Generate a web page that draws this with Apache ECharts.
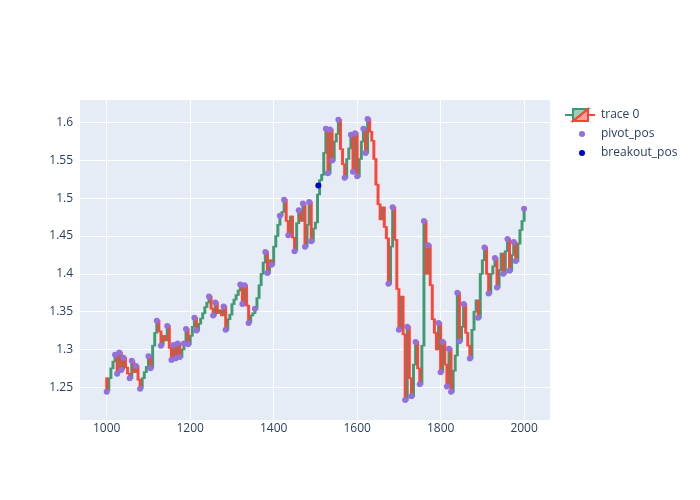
<!DOCTYPE html>
<html>
<head>
<meta charset="utf-8">
<script src="https://cdn.jsdelivr.net/npm/echarts@6/dist/echarts.min.js"></script>
<style>
html, body { margin: 0; padding: 0; background: #fff; }
#chart { width: 700px; height: 500px; }
</style>
</head>
<body>
<div id="chart"></div>
<script>
// candle positions: one candle every stepX units from startX
const startX = 1000
const stepX = 5
const firstOpen = 1.262
// close of each candle
const closes = [
    1.246, 1.262, 1.275, 1.284, 1.293, 1.270, 1.296, 1.274, 1.289, 1.276,
    1.268, 1.262, 1.284, 1.270, 1.278, 1.260, 1.249, 1.262, 1.270, 1.277,
    1.291, 1.276, 1.305, 1.322, 1.338, 1.324, 1.306, 1.318, 1.312, 1.331,
    1.302, 1.287, 1.306, 1.288, 1.308, 1.290, 1.300, 1.309, 1.327, 1.307,
    1.318, 1.330, 1.342, 1.325, 1.334, 1.341, 1.348, 1.356, 1.362, 1.370,
    1.354, 1.345, 1.362, 1.348, 1.352, 1.345, 1.357, 1.326, 1.340, 1.346,
    1.360, 1.366, 1.372, 1.378, 1.386, 1.360, 1.385, 1.358, 1.336, 1.345,
    1.348, 1.354, 1.368, 1.385, 1.400, 1.415, 1.429, 1.401, 1.418, 1.412,
    1.436, 1.450, 1.465, 1.477, 1.482, 1.498, 1.470, 1.451, 1.476, 1.448,
    1.431, 1.467, 1.484, 1.470, 1.493, 1.436, 1.465, 1.495, 1.443, 1.460,
    1.468, 1.505, 1.524, 1.531, 1.560, 1.592, 1.533, 1.591, 1.550, 1.575,
    1.585, 1.604, 1.565, 1.545, 1.527, 1.552, 1.566, 1.584, 1.535, 1.586,
    1.529, 1.552, 1.575, 1.592, 1.560, 1.605, 1.588, 1.576, 1.552, 1.518,
    1.492, 1.472, 1.488, 1.462, 1.447, 1.387, 1.436, 1.488, 1.445, 1.380,
    1.326, 1.370, 1.320, 1.233, 1.330, 1.262, 1.238, 1.280, 1.310, 1.275,
    1.254, 1.305, 1.470, 1.400, 1.438, 1.385, 1.340, 1.322, 1.300, 1.335,
    1.270, 1.310, 1.280, 1.251, 1.301, 1.244, 1.272, 1.292, 1.375, 1.311,
    1.330, 1.360, 1.322, 1.305, 1.288, 1.326, 1.350, 1.365, 1.342, 1.400,
    1.418, 1.435, 1.400, 1.374, 1.400, 1.410, 1.421, 1.382, 1.405, 1.427,
    1.400, 1.430, 1.446, 1.404, 1.425, 1.442, 1.417, 1.440, 1.458, 1.470,
    1.486
]
const pivotX = [
    1000, 1020, 1025, 1030, 1035, 1040, 1055, 1060, 1070, 1080,
    1100, 1105, 1120, 1130, 1145, 1155, 1160, 1165, 1170, 1175,
    1185, 1190, 1195, 1210, 1215, 1245, 1255, 1260, 1280, 1285,
    1320, 1325, 1330, 1340, 1355, 1380, 1385, 1395, 1415, 1425,
    1435, 1450, 1460, 1470, 1475, 1485, 1490, 1525, 1530, 1535,
    1540, 1555, 1570, 1585, 1590, 1595, 1600, 1615, 1620, 1625,
    1675, 1685, 1700, 1715, 1720, 1730, 1740, 1750, 1760, 1770,
    1795, 1800, 1805, 1815, 1820, 1825, 1840, 1845, 1855, 1870,
    1890, 1905, 1915, 1930, 1935, 1950, 1960, 1965, 1975, 1980,
    2000
]
const pivotY = [
    1.244, 1.293, 1.268, 1.296, 1.273, 1.289, 1.262, 1.285, 1.278, 1.248,
    1.291, 1.275, 1.338, 1.305, 1.331, 1.286, 1.306, 1.288, 1.308, 1.290,
    1.308, 1.327, 1.307, 1.342, 1.325, 1.370, 1.345, 1.362, 1.357, 1.326,
    1.386, 1.360, 1.385, 1.335, 1.354, 1.429, 1.401, 1.412, 1.477, 1.498,
    1.451, 1.430, 1.484, 1.493, 1.436, 1.495, 1.443, 1.592, 1.533, 1.591,
    1.550, 1.604, 1.527, 1.584, 1.535, 1.586, 1.529, 1.592, 1.560, 1.605,
    1.387, 1.488, 1.326, 1.233, 1.330, 1.238, 1.310, 1.254, 1.470, 1.438,
    1.335, 1.270, 1.310, 1.251, 1.301, 1.244, 1.375, 1.311, 1.360, 1.288,
    1.342, 1.435, 1.374, 1.421, 1.382, 1.400, 1.446, 1.404, 1.442, 1.417,
    1.486
]
const breakoutX = [1507]
const breakoutY = [1.517]

const upColor = '#3D9970'
const downColor = '#FF4136'
const fontFamily = '"Open Sans", sans-serif'
const textColor = '#2a3f5f'

var upData = []
var downData = []
closes.forEach(function (c, i) {
    const o = i === 0 ? firstOpen : closes[i - 1]
    const item = [startX + i * stepX, o, c]
    if (c >= o) upData.push(item)
    else downData.push(item)
})

function candleRenderer(color, fill) {
    return function (params, api) {
        const x = api.value(0)
        const p1 = api.coord([x, api.value(1)])
        const p2 = api.coord([x, api.value(2)])
        const w = 1.4
        const top = Math.min(p1[1], p2[1])
        const h = Math.max(Math.abs(p1[1] - p2[1]), 0.6)
        return {
            type: 'rect',
            shape: { x: p1[0] - w / 2, y: top, width: w, height: h },
            style: { fill: color, stroke: color, lineWidth: 1.6, opacity: 0.95 }
        }
    }
}

var echart = echarts.init(document.getElementById('chart'))
var option = {
    animation: false,
    backgroundColor: '#fff',
    grid: {
        left: 80,
        right: 150,
        top: 100,
        bottom: 80,
        show: true,
        backgroundColor: '#E5ECF6',
        borderWidth: 0
    },
    xAxis: {
        type: 'value',
        min: 936,
        max: 2062,
        splitNumber: 5,
        axisLine: { show: false },
        axisTick: { show: false },
        axisLabel: {
            showMinLabel: false,
            showMaxLabel: false,
            margin: 3,
            formatter: function (v) { return String(v) },
            fontFamily: fontFamily,
            fontSize: 12,
            color: textColor
        },
        splitLine: {
            show: true,
            showMinLine: false,
            showMaxLine: false,
            lineStyle: { color: '#fff', width: 1 }
        }
    },
    yAxis: {
        type: 'value',
        min: 1.2067,
        max: 1.630,
        splitNumber: 8,
        axisLine: { show: false },
        axisTick: { show: false },
        axisLabel: {
            showMinLabel: false,
            showMaxLabel: false,
            margin: 7,
            fontFamily: fontFamily,
            fontSize: 12,
            color: textColor
        },
        splitLine: {
            show: true,
            showMinLine: false,
            showMaxLine: false,
            lineStyle: { color: '#fff', width: 1 }
        }
    },
    series: [{
        type: 'custom',
        name: 'trace 0',
        renderItem: candleRenderer(upColor),
        encode: { x: 0, y: [1, 2] },
        data: upData
    }, {
        type: 'custom',
        name: 'trace 0',
        renderItem: candleRenderer(downColor),
        encode: { x: 0, y: [1, 2] },
        data: downData
    }, {
        type: 'scatter',
        name: 'pivot_pos',
        symbolSize: 6,
        itemStyle: { color: '#9370DB', opacity: 1 },
        data: pivotX.map(function (x, i) { return [x, pivotY[i]] })
    }, {
        type: 'scatter',
        name: 'breakout_pos',
        symbolSize: 6,
        itemStyle: { color: '#0000CD', opacity: 1 },
        data: breakoutX.map(function (x, i) { return [x, breakoutY[i]] })
    }],
    graphic: [
        { type: 'line', shape: { x1: 565, y1: 115, x2: 573, y2: 115 }, style: { stroke: upColor, lineWidth: 2 } },
        { type: 'polygon', shape: { points: [[573, 109], [588, 109], [573, 121]] },
          style: { fill: 'rgba(61,153,112,0.5)', stroke: upColor, lineWidth: 2 } },
        { type: 'polygon', shape: { points: [[588, 109], [588, 121], [573, 121]] },
          style: { fill: 'rgba(255,65,54,0.5)', stroke: downColor, lineWidth: 2 } },
        { type: 'line', shape: { x1: 588, y1: 115, x2: 595, y2: 115 }, style: { stroke: downColor, lineWidth: 2 } },
        { type: 'text', x: 601, y: 115, style: { text: 'trace 0', font: '12px ' + fontFamily, fill: textColor, verticalAlign: 'middle' } },
        { type: 'circle', shape: { cx: 582, cy: 134, r: 3 }, style: { fill: '#9370DB' } },
        { type: 'text', x: 601, y: 134, style: { text: 'pivot_pos', font: '12px ' + fontFamily, fill: textColor, verticalAlign: 'middle' } },
        { type: 'circle', shape: { cx: 582, cy: 153, r: 3 }, style: { fill: '#0000CD' } },
        { type: 'text', x: 601, y: 153, style: { text: 'breakout_pos', font: '12px ' + fontFamily, fill: textColor, verticalAlign: 'middle' } }
    ]
}
echart.setOption(option)
</script>
</body>
</html>
